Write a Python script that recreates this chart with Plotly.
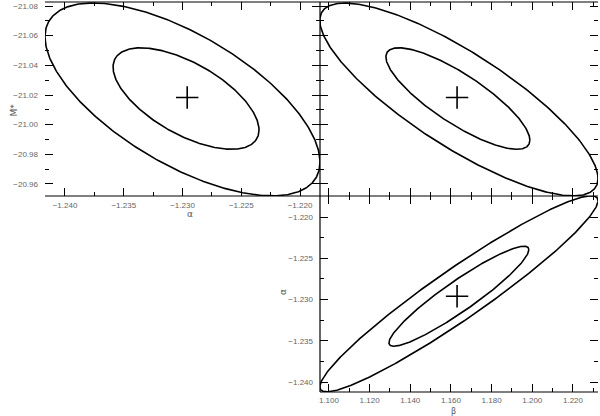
import numpy as np
import plotly.graph_objects as go

# ---- tick labels ----
alpha_ticks = [-1.240, -1.235, -1.230, -1.225, -1.220]
beta_ticks = [1.100, 1.120, 1.140, 1.160, 1.180, 1.200, 1.220]
mstar_ticks = [-21.08, -21.06, -21.04, -21.02, -21.00, -20.98, -20.96]

# ---- best-fit point ----
best_alpha = -1.2296
best_beta = 1.1630
best_mstar = -21.0183

# ---- confidence ellipses: [center_x, center_y, half_width_x, half_width_y, correlation] ----
am_inner = [-1.2297, -21.0176, 0.00621, 0.0342, 0.62]
am_outer = [-1.2300, -21.0170, 0.01170, 0.0650, 0.65]
bm_inner = [1.1634, -21.0176, 0.0354, 0.0342, 0.82]
bm_outer = [1.1639, -21.0170, 0.0684, 0.0650, 0.82]
ba_inner = [1.1639, -1.2296, 0.0344, 0.00606, 0.93]
ba_outer = [1.1639, -1.2293, 0.0684, 0.01188, 0.95]

# ---- axis ranges ----
alpha_range_x = [-1.2417, -1.2183]
mstar_range = [-20.9519, -21.0827]
beta_range = [1.0956, 1.2323]
alpha_range_y = [-1.24121, -1.21745]


def ellipse(p):
    cx, cy, a, b, r = p
    t = np.linspace(0, 2 * np.pi, 400)
    x = cx + a * np.cos(t)
    y = cy + b * (r * np.cos(t) + np.sqrt(1 - r * r) * np.sin(t))
    return x, y


fig = go.Figure()
line = dict(color="black", width=1.6)
for p, xa, ya in [(am_inner, "x", "y"), (am_outer, "x", "y"),
                  (bm_inner, "x2", "y2"), (bm_outer, "x2", "y2"),
                  (ba_inner, "x3", "y3"), (ba_outer, "x3", "y3")]:
    ex, ey = ellipse(p)
    fig.add_trace(go.Scatter(x=ex, y=ey, mode="lines", line=line, xaxis=xa, yaxis=ya,
                             hoverinfo="skip", showlegend=False, cliponaxis=True))

cross = dict(symbol="cross-thin", size=16, color="black", line=dict(color="black", width=1.6))
fig.add_trace(go.Scatter(x=[best_alpha], y=[best_mstar], mode="markers", marker=cross,
                         xaxis="x", yaxis="y", showlegend=False))
fig.add_trace(go.Scatter(x=[best_beta], y=[best_mstar], mode="markers", marker=cross,
                         xaxis="x2", yaxis="y2", showlegend=False))
fig.add_trace(go.Scatter(x=[best_beta], y=[best_alpha], mode="markers", marker=cross,
                         xaxis="x3", yaxis="y3", showlegend=False))

W, H = 600, 416
xl, xm, xr = 45 / W, 320 / W, 598 / W
yt, ymid, yb = 1 - 2 / H, 1 - 196 / H, 1 - 392 / H

tickfont = dict(family="Liberation Sans, Arial, sans-serif", size=8, color="#666")
common = dict(showgrid=False, zeroline=False, showline=False, ticks="inside",
              ticklen=8, tickwidth=1, tickcolor="black", mirror="ticks",
              tickfont=tickfont, automargin=False)


def minor(d):
    return dict(dtick=d, ticks="inside", ticklen=4, tickwidth=1, tickcolor="black", showgrid=False)


fig.update_layout(
    width=W, height=H, margin=dict(l=0, r=0, t=0, b=0, autoexpand=False),
    paper_bgcolor="white", plot_bgcolor="white", showlegend=False,
    xaxis=dict(domain=[xl, xm], anchor="y", range=alpha_range_x, tickvals=alpha_ticks,
               tickformat=".3f", minor=minor(0.0025), ticklabelstandoff=3, **common),
    yaxis=dict(domain=[ymid, yt], anchor="x", range=mstar_range, tickvals=mstar_ticks,
               tickformat=".2f", minor=minor(0.01), ticklabelstandoff=6, **common),
    xaxis2=dict(domain=[xm, xr], anchor="y2", range=beta_range, tickvals=beta_ticks,
                showticklabels=False, minor=minor(0.01), **common),
    yaxis2=dict(domain=[ymid, yt], anchor="x2", range=mstar_range, tickvals=mstar_ticks,
                showticklabels=False, minor=minor(0.01), **common),
    xaxis3=dict(domain=[xm, xr], anchor="y3", range=beta_range, tickvals=beta_ticks,
                tickformat=".3f", minor=minor(0.01), ticklabelstandoff=2, **common),
    yaxis3=dict(domain=[yb, ymid], anchor="x3", range=alpha_range_y, tickvals=alpha_ticks,
                tickformat=".3f", minor=minor(0.0025), ticklabelstandoff=6, **common),
)

# visible frame lines
lines = [
    (xl, yt, xr, yt),      # top
    (xl, ymid, xr, ymid),  # middle horizontal
    (xm, yt, xm, yb),      # middle vertical
    (xm, yb, xr, yb),      # bottom
]
for x0, y0, x1, y1 in lines:
    fig.add_shape(type="line", xref="paper", yref="paper", x0=x0, y0=y0, x1=x1, y1=y1,
                  line=dict(color="black", width=1.2))

tfont = dict(family="DejaVu Sans, sans-serif", size=9, color="#555")
fig.add_annotation(text="α", x=185 / W, y=1 - 214 / H, xref="paper", yref="paper",
                   showarrow=False, font=tfont)
fig.add_annotation(text="M*", x=6 / W, y=1 - 102 / H, xref="paper", yref="paper",
                   showarrow=False, font=tfont, textangle=-90)
fig.add_annotation(text="α", x=283 / W, y=1 - 297 / H, xref="paper", yref="paper",
                   showarrow=False, font=tfont, textangle=-90)
fig.add_annotation(text="β", x=457 / W, y=1 - 406 / H, xref="paper", yref="paper",
                   yanchor="top", borderpad=0,
                   showarrow=False, font=dict(family="DejaVu Sans, sans-serif", size=8, color="#555"))

fig.write_html("out.html",
               config={"displayModeBar": False},
               post_script="document.body.style.margin='0';document.body.style.overflow='hidden';")
